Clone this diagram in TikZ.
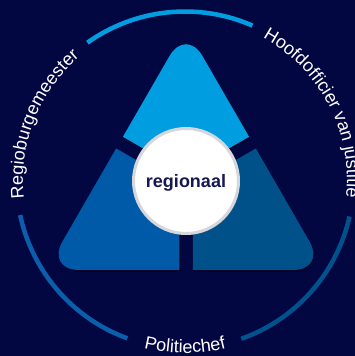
\documentclass[tikz,border=0pt]{standalone}
\usepackage{fontspec}
\setmainfont{Liberation Sans}
\usetikzlibrary{decorations.text,shadows}
\definecolor{bgnavy}{RGB}{2,7,66}
\definecolor{ptop}{RGB}{0,158,224}
\definecolor{pleft}{RGB}{0,90,168}
\definecolor{pright}{RGB}{0,81,138}
\definecolor{arcleft}{RGB}{10,94,172}
\definecolor{arcright}{RGB}{0,82,140}
\definecolor{rim}{RGB}{214,215,220}
\definecolor{labelnavy}{RGB}{22,24,82}
\newcommand{\mytri}{(186,86) -- (46,86) -- (186,328.5) -- (326,86) -- cycle}
\newcommand{\wedgetop}{(186,182.8) -- +(150:300) -- +(90:400) -- +(30:300) -- cycle}
\newcommand{\wedgeleft}{(179.25,171.1) -- +(150:300) -- +(210:300) -- +(270:300) -- cycle}
\newcommand{\wedgeright}{(192.75,171.1) -- +(270:300) -- +(330:300) -- +(30:300) -- cycle}
\newcommand{\ringfont}{\fontsize{18}{20}\selectfont}
\begin{document}
\begin{tikzpicture}[x=1pt,y=1pt,
  ringarc/.style={line width=4.5pt},
  ringtext/.style={decorate,decoration={text along path,text={|\ringfont|#1},text align=center,text color=white}},
  hubstyle/.style={circle,fill=white,draw=rim,line width=3pt,minimum size=105pt,inner sep=0pt,
     drop shadow={shadow xshift=1.5pt,shadow yshift=-1.5pt,opacity=0.35}},
  labelstyle/.style={font=\bfseries\fontsize{18}{20}\selectfont,text=labelnavy,anchor=base,inner sep=0pt}]
\useasboundingbox (0,0) rectangle (355,356);
\fill[bgnavy] (0,0) rectangle (355,356);
\coordinate (C) at (185,176);
% shadows of the pieces
\begin{scope}[shift={(1.5,-2)}]
  \begin{scope}\clip \wedgetop; \fill[black,opacity=0.35,rounded corners=33pt] \mytri; \end{scope}
  \begin{scope}\clip \wedgeleft; \fill[black,opacity=0.35,rounded corners=33pt] \mytri; \end{scope}
  \begin{scope}\clip \wedgeright; \fill[black,opacity=0.35,rounded corners=33pt] \mytri; \end{scope}
\end{scope}
% pieces
\begin{scope}\clip \wedgetop; \fill[ptop,rounded corners=33pt] \mytri; \end{scope}
\begin{scope}\clip \wedgeleft; \fill[pleft,rounded corners=33pt] \mytri; \end{scope}
\begin{scope}\clip \wedgeright; \fill[pright,rounded corners=33pt] \mytri; \end{scope}
% ring
\draw[ringarc,ptop] (C) ++(66.4:168.5) arc[start angle=66.4,end angle=125.4,radius=168.5];
\draw[ringarc,arcleft] (C) ++(192:168.5) arc[start angle=192,end angle=250,radius=168.5];
\draw[ringarc,arcright] (C) ++(289.5:168.5) arc[start angle=289.5,end angle=347.5,radius=168.5];
% ring labels
\path[ringtext={Regioburgemeester}] (C) ++(200:162) arc[start angle=200,end angle=117,radius=162];
\path[ringtext={Hoofdofficier van justitie}] (C) ++(90:162) arc[start angle=90,end angle=-35,radius=162];
\path[ringtext={Politiechef}] (C) ++(235:173) arc[start angle=235,end angle=305,radius=173];
% hub
\node[hubstyle] (hub) at (186,175) {};
\node[labelstyle] (lab) at ([yshift=-7pt]hub.center) {regionaal};
\end{tikzpicture}
\end{document}
